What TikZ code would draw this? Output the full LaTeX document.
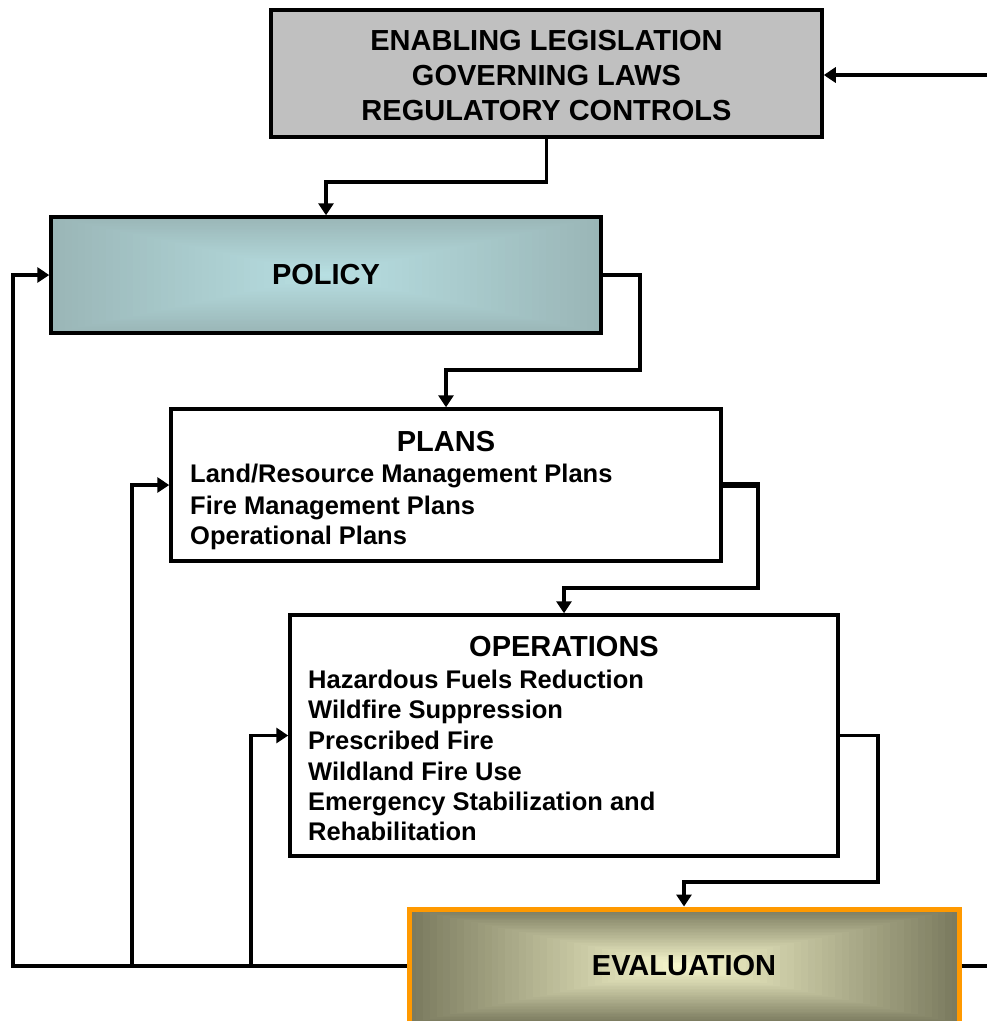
\documentclass[tikz,border=0pt]{standalone}
\usepackage{fontspec}
\setmainfont{Liberation Sans}
\usetikzlibrary{arrows.meta,calc}
\definecolor{topgray}{HTML}{C0C0C0}
\definecolor{poledge}{HTML}{9AB6B7}
\definecolor{polcenter}{HTML}{B8E0E3}
\definecolor{evaledge}{HTML}{7B7B5F}
\definecolor{evalcenter}{HTML}{FBFBD0}
\definecolor{evalorange}{HTML}{FF9900}
\tikzset{
  box/.style={draw=black, line width=3.5pt, rectangle, inner sep=0pt, align=center},
  gradbox/.style n args={2}{path picture={
    \foreach \k in {0,...,40}{
      \pgfmathsetmacro\t{1-\k/40}
      \pgfmathtruncatemacro\p{100*\k/40}
      \fill[#2!\p!#1] ($(path picture bounding box.center)!\t!(path picture bounding box.south west)$) rectangle ($(path picture bounding box.center)!\t!(path picture bounding box.north east)$);
    }}},
  titlefont/.style={font=\fontsize{29}{35}\selectfont\bfseries},
  itemfont/.style={font=\fontsize{25.5}{30}\selectfont\bfseries},
  item/.style={itemfont, anchor=base west, inner sep=0pt},
  ttl/.style={titlefont, anchor=base, inner sep=0pt},
  conn/.style={line width=3.5pt},
  arr/.style={line width=3.5pt, -{Triangle[length=12pt,width=15pt]}}
}
\begin{document}
\begin{tikzpicture}[x=1pt,y=-1pt]
\useasboundingbox (0,0) rectangle (987,1021);
\clip (0,0) rectangle (987,1021);

% boxes
\node[box, fill=topgray, minimum width=551pt, minimum height=127pt] (top) at (546.5,73.5) {};
\node[titlefont, align=center, inner sep=0pt] (topT) at (546.5,75.5)
  {ENABLING LEGISLATION\\GOVERNING LAWS\\REGULATORY CONTROLS};
\node[box, gradbox={poledge}{polcenter}, titlefont, minimum width=550pt, minimum height=116pt] (policy) at (326,275) {\raisebox{-2pt}{POLICY}};
\node[box, fill=white, minimum width=550pt, minimum height=152pt] (plans) at (446,485) {};
\node[box, fill=white, minimum width=548pt, minimum height=241pt] (ops) at (564,735.5) {};
\node[box, draw=evalorange, line width=5pt, gradbox={evaledge}{evalcenter}, titlefont, minimum width=550pt, minimum height=114pt] (eval) at (684,966) {\raisebox{-1pt}{EVALUATION}};

% plans text
\node[ttl] (plansT) at (446,451.4) {PLANS};
\node[item] (p1) at (190,482) {Land/Resource Management Plans};
\node[item] (p2) at (190,514) {Fire Management Plans};
\node[item] (p3) at (190,544) {Operational Plans};

% operations text
\node[ttl] (opsT) at (564,656.4) {OPERATIONS};
\node[item] (o1) at (308,688) {Hazardous Fuels Reduction};
\node[item] (o2) at (308,718) {Wildfire Suppression};
\node[item] (o3) at (308,749) {Prescribed Fire};
\node[item] (o4) at (308,780) {Wildland Fire Use};
\node[item] (o5) at (308,810) {Emergency Stabilization and};
\node[item] (o6) at (308,840) {Rehabilitation};

% coordinates
\coordinate (rightin) at (987,75);
\coordinate (rightout) at (987,966);
\coordinate (c2) at (640,370);
\coordinate (c3) at (758,588);
\coordinate (c4) at (878,882);
\coordinate (fb) at (13,966);
\coordinate (b1) at (132,966);
\coordinate (b2) at (251,966);

% connectors
\draw[arr] (rightin) -- (rightin -| top.east);
\draw[arr] (top.south) -- ++(0,43) -| (policy.north);
\draw[arr] (policy.east) -| (c2) -| (plans.north);
\draw[arr] (plans.east) -| (c3) -| (ops.north);
\draw[line width=5.5pt] (plans.east) -- ++(37,0);
\draw[arr] (ops.east) -| (c4) -| (eval.north);
\draw[arr] (eval.west) -- (fb) |- (policy.west);
\draw[arr] (b1) |- (plans.west);
\draw[arr] (b2) |- (ops.west);
\draw[conn] (eval.east) -- (rightout);
\end{tikzpicture}
\end{document}
